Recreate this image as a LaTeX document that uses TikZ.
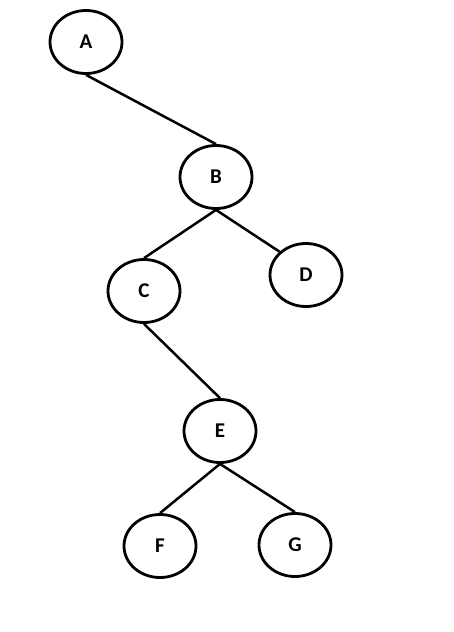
\documentclass[tikz,border=0pt]{standalone}
\usepackage{fontspec}
\setmainfont{Carlito}
\usetikzlibrary{shapes.geometric}
\begin{document}
\begin{tikzpicture}[x=1pt,y=-1pt,
  treenode/.style={draw=black, line width=2.8pt, ellipse, minimum width=72pt, minimum height=63pt, inner sep=0pt, font=\fontsize{21}{25}\selectfont\bfseries},
  edge/.style={draw=black, line width=2.5pt}]
\useasboundingbox[fill=white] (0,0) rectangle (454,632);
\node[treenode] (A) at (86,42) {A};
\node[treenode] (B) at (216,177) {B};
\node[treenode] (C) at (144,291) {C};
\node[treenode] (D) at (306,275) {D};
\node[treenode] (E) at (220,431) {E};
\node[treenode] (F) at (160,546) {F};
\node[treenode] (G) at (295,545) {G};
\draw[edge] (A.south) -- (B.north);
\draw[edge] (B.south) -- (C.north);
\draw[edge] (B.south) -- (D.north west);
\draw[edge] (C.south) -- (E.north);
\draw[edge] (E.south) -- (F.north);
\draw[edge] (E.south) -- (G.north);
\end{tikzpicture}
\end{document}
